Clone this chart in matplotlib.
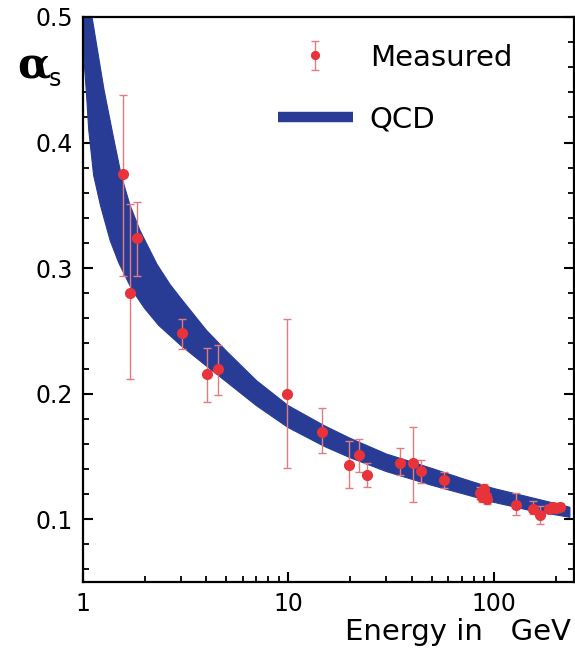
import matplotlib
matplotlib.use("Agg")
import matplotlib.pyplot as plt
import numpy as np
from matplotlib.lines import Line2D
from matplotlib.ticker import FixedLocator, FixedFormatter, MultipleLocator, NullFormatter

# ---------------- data ----------------
# QCD band: upper and lower edges
qcd_upper_energy = [1.0, 1.11, 1.27, 1.42, 1.54, 1.7, 1.9, 2.3, 2.66, 3.0, 4.0, 5.0, 7.0,
                    10, 15, 20, 30, 50, 70, 100, 150, 200, 235]
qcd_upper_alpha = [0.56, 0.50, 0.442, 0.402, 0.374, 0.350, 0.33, 0.303, 0.287, 0.276,
                   0.2505, 0.234, 0.2105, 0.1905, 0.1745, 0.1645, 0.152, 0.1405, 0.1325,
                   0.1245, 0.1175, 0.1125, 0.1095]
qcd_lower_energy = [1.0, 1.04, 1.07, 1.13, 1.22, 1.36, 1.5, 1.74, 2.0, 2.34, 3.0, 4.0,
                    5.0, 7.0, 10, 15, 20, 30, 50, 70, 100, 150, 200, 235]
qcd_lower_alpha = [0.48, 0.442, 0.41, 0.374, 0.350, 0.322, 0.304, 0.2825, 0.268, 0.2545,
                   0.2385, 0.222, 0.2095, 0.1905, 0.173, 0.158, 0.149, 0.138, 0.127,
                   0.1205, 0.1135, 0.107, 0.1035, 0.1015]

# measured points
meas_energy = [1.565, 1.70, 1.83, 3.03, 4.01, 4.57, 9.9, 14.6, 19.8, 22.1, 24.1, 35.0,
               40.6, 44.2, 57.5, 86.0, 88.0, 89.5, 91.2, 92.5, 129, 155, 168, 185, 195,
               202, 210]
meas_alpha = [0.375, 0.280, 0.324, 0.2485, 0.2155, 0.220, 0.1994, 0.1696, 0.143, 0.151,
              0.135, 0.1444, 0.1444, 0.1385, 0.131, 0.121, 0.118, 0.124, 0.119, 0.116,
              0.1112, 0.1085, 0.1035, 0.1085, 0.1098, 0.109, 0.110]
meas_err_low = [0.081, 0.068, 0.030, 0.013, 0.022, 0.021, 0.059, 0.017, 0.018, 0.013,
                0.009, 0.009, 0.031, 0.010, 0.0065, 0.005, 0.004, 0.004, 0.003, 0.004,
                0.008, 0.004, 0.007, 0.003, 0.003, 0.003, 0.003]
meas_err_high = [0.063, 0.071, 0.029, 0.011, 0.021, 0.019, 0.060, 0.019, 0.019, 0.013,
                 0.0095, 0.012, 0.029, 0.009, 0.0067, 0.005, 0.004, 0.004, 0.003, 0.004,
                 0.010, 0.006, 0.007, 0.003, 0.003, 0.003, 0.003]

x_major_ticks = [1, 10, 100]
x_major_labels = ["1", "10", "100"]
x_minor_ticks = [2, 3, 4, 5, 6, 7, 8, 9, 20, 30, 40, 50, 60, 70, 80, 90, 200]
y_major_ticks = [0.1, 0.2, 0.3, 0.4, 0.5]
y_major_labels = ["0.1", "0.2", "0.3", "0.4", "0.5"]

legend_labels = ["Measured", "QCD"]

# ---------------- style ----------------
BLUE = "#283c96"
RED = "#e8333a"
ERR = "#e27b7e"

W, H = 575, 648
fig = plt.figure(figsize=(W / 100, H / 100), dpi=100)
ax = fig.add_axes([82.7 / W, (H - 582) / H, (574 - 82.7) / W, (582 - 17) / H])

# QCD band polygon
band_x = np.concatenate([qcd_upper_energy, qcd_lower_energy[::-1]])
band_y = np.concatenate([qcd_upper_alpha, qcd_lower_alpha[::-1]])
ax.fill(band_x, band_y, color=BLUE, lw=0.8, edgecolor=BLUE, zorder=2)

# measured points
eb = ax.errorbar(meas_energy, meas_alpha, yerr=[meas_err_low, meas_err_high],
                 fmt="o", color=RED, ms=7, ecolor=ERR, elinewidth=1.0,
                 capsize=2.6, capthick=1.0, zorder=4)

ax.set_xscale("log")
ax.set_xlim(1, 246)
ax.set_ylim(0.05, 0.5)

ax.xaxis.set_major_locator(FixedLocator(x_major_ticks))
ax.xaxis.set_major_formatter(FixedFormatter(x_major_labels))
ax.xaxis.set_minor_locator(FixedLocator(x_minor_ticks))
ax.xaxis.set_minor_formatter(NullFormatter())
ax.yaxis.set_major_locator(FixedLocator(y_major_ticks))
ax.yaxis.set_major_formatter(FixedFormatter(y_major_labels))
ax.yaxis.set_minor_locator(MultipleLocator(0.02))

ax.tick_params(which="both", direction="in", top=False, right=True,
               labelsize=17, colors="black")
ax.tick_params(which="major", length=7, width=1.5, pad=7)
ax.tick_params(which="minor", length=4.5, width=1.3)
for s in ax.spines.values():
    s.set_linewidth(1.6)

# legend
h_qcd = Line2D([], [], color=BLUE, lw=7.5, solid_capstyle="butt")
ax.legend([eb, h_qcd], legend_labels, loc="upper left",
          bbox_to_anchor=(0.3975, 0.953), frameon=False, fontsize=21,
          handlelength=2.57, handletextpad=0.58, labelspacing=1.17,
          borderpad=0, borderaxespad=0, markerscale=0.8)

# axis labels
fig.text(17 / W, 1 - 78 / H, "α", fontsize=31, family="DejaVu Serif",
         fontweight="bold", ha="left", va="baseline")
fig.text(49 / W, 1 - 86 / H, "s", fontsize=17, ha="left", va="baseline")
fig.text(571 / W, 1 - 640 / H, "Energy in   GeV", fontsize=21, ha="right",
         va="baseline")

fig.savefig("out.png", dpi=100)
